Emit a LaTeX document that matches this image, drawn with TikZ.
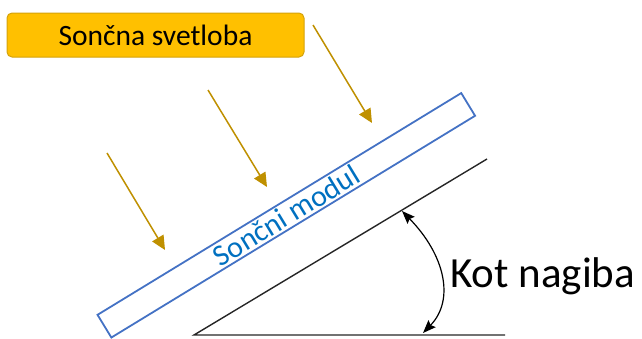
\documentclass[tikz,border=0pt]{standalone}
\usepackage{fontspec}
\setmainfont{Carlito}
\usetikzlibrary{arrows.meta}
\definecolor{sunfill}{HTML}{FFC000}
\definecolor{sunedge}{HTML}{D4A20A}
\definecolor{raycol}{HTML}{BF9000}
\definecolor{modedge}{HTML}{4472C4}
\definecolor{modtext}{HTML}{0070C0}
\tikzset{
  labelbox/.style={draw=sunedge, fill=sunfill, line width=1pt, rounded corners=5pt,
    minimum width=297pt, minimum height=44pt, inner sep=0pt,
    font=\fontsize{29.5}{34}\selectfont},
  ray/.style={draw=raycol, line width=1.5pt, -{Triangle[length=14pt,width=13pt]}},
  modbox/.style={draw=modedge, line width=1.8pt, minimum width=426pt, minimum height=26.6pt,
    inner sep=0pt, rotate=31.37, text=modtext, font=\fontsize{30}{32}\selectfont},
  ground/.style={draw=black!85, line width=1.4pt},
  anglearrow/.style={draw=black, line width=1.2pt,
    {Stealth[length=13pt,width=10pt,inset=2pt]}-{Stealth[length=13pt,width=10pt,inset=2pt]}},
  bigtext/.style={font=\fontsize{43}{48}\selectfont, inner sep=0pt, anchor=base west}
}
\begin{document}
\begin{tikzpicture}[x=1pt,y=-1pt]
\useasboundingbox (0,0) rectangle (642,338);
\node[labelbox] (sun) at (155.5,35) {Sončna svetloba};
\coordinate (r1s) at (107,153); \coordinate (r1e) at (165,250);
\coordinate (r2s) at (208,90);  \coordinate (r2e) at (267,187);
\coordinate (r3s) at (313,25);  \coordinate (r3e) at (372,123);
\draw[ray] (r1s) -- (r1e);
\draw[ray] (r2s) -- (r2e);
\draw[ray] (r3s) -- (r3e);
\node[modbox] (mod) at (286.3,215.3) {Sončni modul};
\coordinate (v) at (194,335);
\coordinate (hend) at (505,335);
\coordinate (iend) at (487,159);
\draw[ground] (hend) -- (v) -- (iend);
\coordinate (a1) at (402,211);
\coordinate (a2) at (423,333);
\draw[anglearrow] (a1) .. controls (445,255) and (455,300) .. (a2);
\node[bigtext] (kot) at (450,287) {Kot nagiba};
\end{tikzpicture}
\end{document}
